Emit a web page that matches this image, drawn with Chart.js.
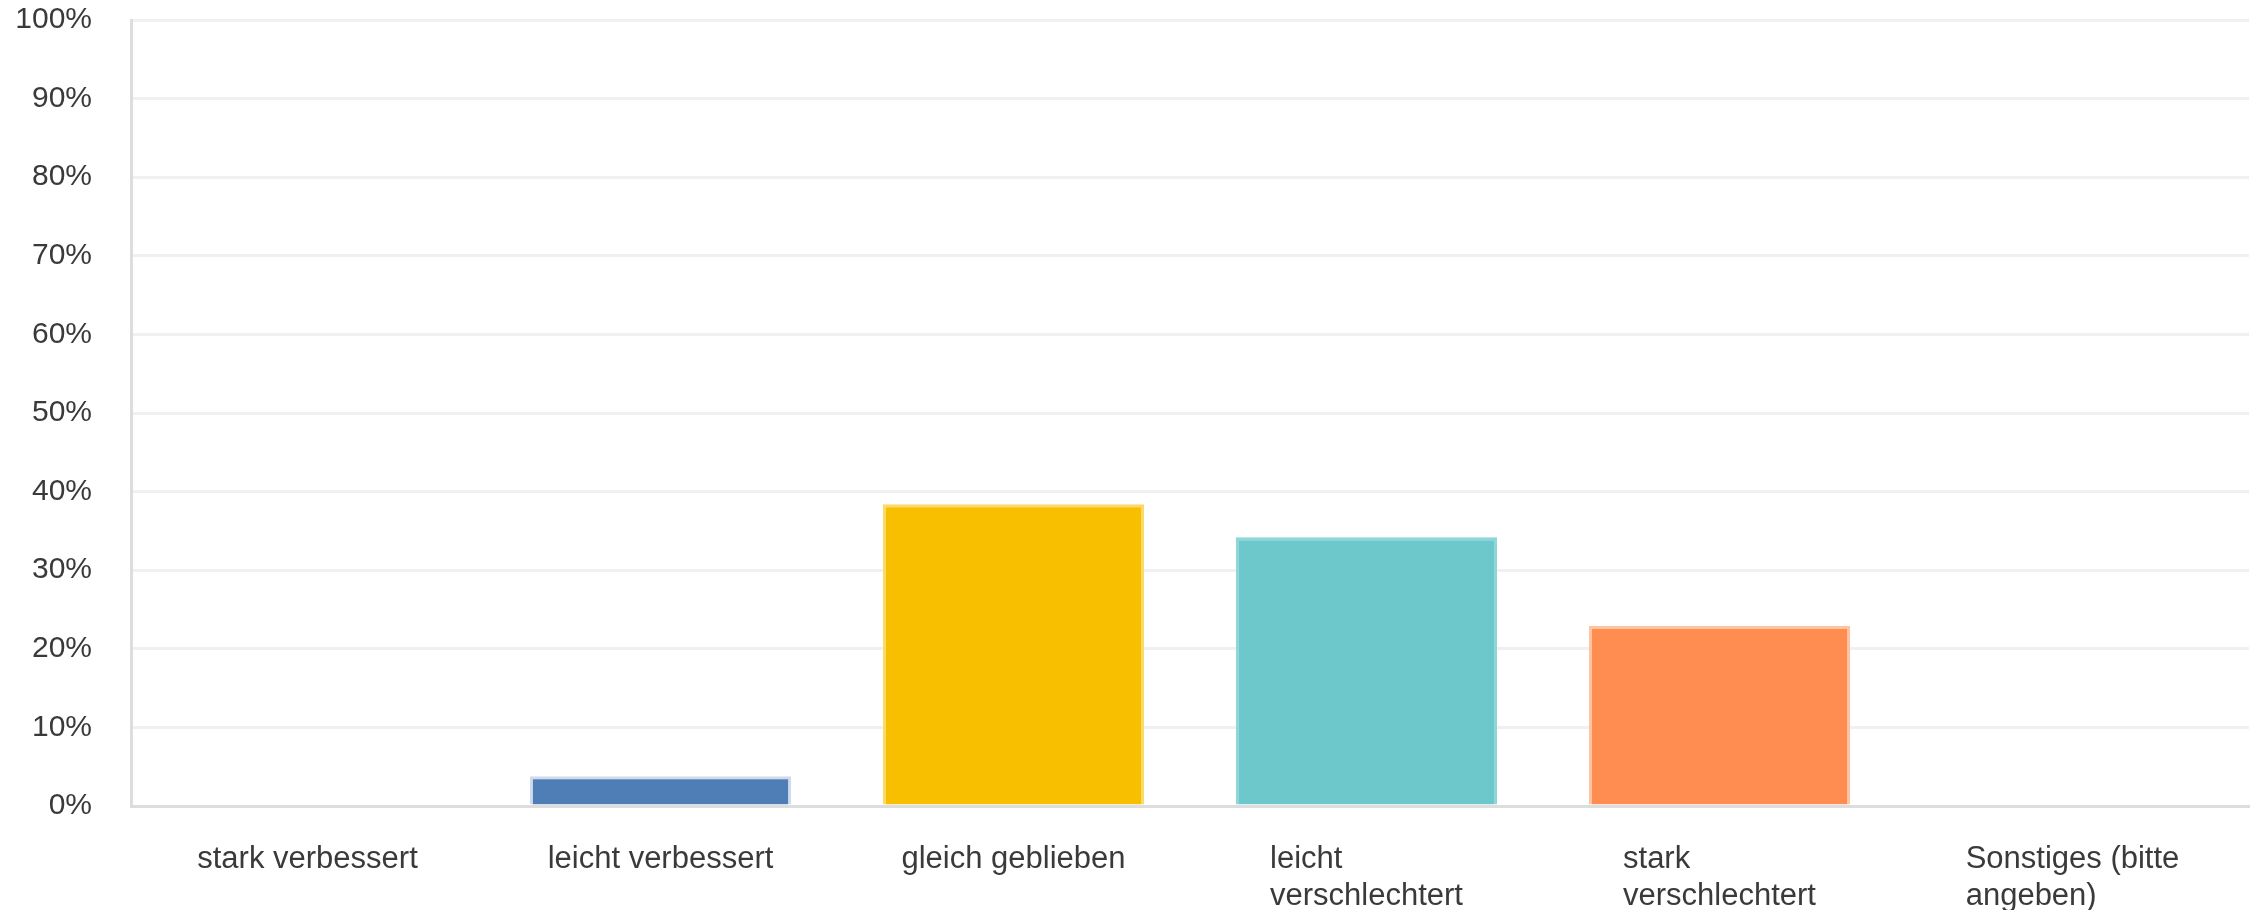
<!DOCTYPE html>
<html>
<head>
<meta charset="utf-8">
<script src="https://cdn.jsdelivr.net/npm/chart.js@4/dist/chart.umd.min.js"></script>
<style>
  html, body { margin: 0; padding: 0; background: #ffffff; }
  #wrap { width: 2262px; height: 910px; position: relative; }
</style>
</head>
<body>
<div id="wrap"><canvas id="c" width="2262" height="910"></canvas></div>
<script>
const categories = [
  ["stark verbessert"],
  ["leicht verbessert"],
  ["gleich geblieben"],
  ["leicht", "verschlechtert"],
  ["stark", "verschlechtert"],
  ["Sonstiges (bitte", "angeben)"]
];
const values = [0, 3.8, 38.4, 34.2, 22.9, 0];
const yTickLabels = ["0%", "10%", "20%", "30%", "40%", "50%", "60%", "70%", "80%", "90%", "100%"];
const barColors = ["#4f7db6", "#4f7db6", "#f8bf00", "#6dc8cc", "#ff8c50", "#b5b5b5"];
const barBorderColors = ["#cfdbea", "#cfdbea", "#fdd96a", "#8fd5d8", "#ffc3a0", "#dddddd"];

const FONT = "'Liberation Sans', Arial, sans-serif";
const TEXT_COLOR = "#3a3a3a";

const labelPlugin = {
  id: 'leftBlockLabels',
  afterDraw(chart) {
    const ctx = chart.ctx;
    const xs = chart.scales.x;
    const area = chart.chartArea;
    ctx.save();
    ctx.font = "31px " + FONT;
    ctx.fillStyle = TEXT_COLOR;
    ctx.textAlign = 'left';
    ctx.textBaseline = 'alphabetic';
    categories.forEach((lines, i) => {
      const xc = xs.getPixelForValue(i);
      const w = Math.max(...lines.map(l => ctx.measureText(l).width));
      const x0 = xc - w / 2;
      lines.forEach((line, k) => {
        ctx.fillText(line, x0, area.bottom + 62 + k * 37);
      });
    });
    ctx.restore();
  }
};

new Chart(document.getElementById('c'), {
  type: 'bar',
  data: {
    labels: categories.map(l => l.join(' ')),
    datasets: [{
      data: values,
      backgroundColor: barColors,
      borderColor: barBorderColors,
      borderWidth: values.map(v => v > 0 ? {top: 3, left: 3, right: 3, bottom: 0} : 0),
      borderSkipped: false,
      categoryPercentage: 1.0,
      barPercentage: 0.74
    }]
  },
  options: {
    responsive: false,
    animation: false,
    devicePixelRatio: 1,
    layout: { padding: { top: 20, right: 13, bottom: 104, left: 0 } },
    plugins: {
      legend: { display: false },
      tooltip: { enabled: false }
    },
    scales: {
      x: {
        ticks: { display: false },
        grid: { display: false, drawTicks: false },
        border: { display: true, color: '#dddddd', width: 3 }
      },
      y: {
        min: 0,
        max: 100,
        ticks: {
          stepSize: 10,
          padding: 39,
          color: TEXT_COLOR,
          font: { family: FONT, size: 30 },
          callback: (v, i) => yTickLabels[i]
        },
        grid: { color: '#f0f0f0', lineWidth: 3, drawTicks: false },
        border: { display: true, color: '#dddddd', width: 3 },
        afterFit(scale) {
          scale.width = 131;
          scale.paddingTop = 0;
          scale.paddingBottom = 0;
        }
      }
    }
  },
  plugins: [labelPlugin]
});
</script>
</body>
</html>
